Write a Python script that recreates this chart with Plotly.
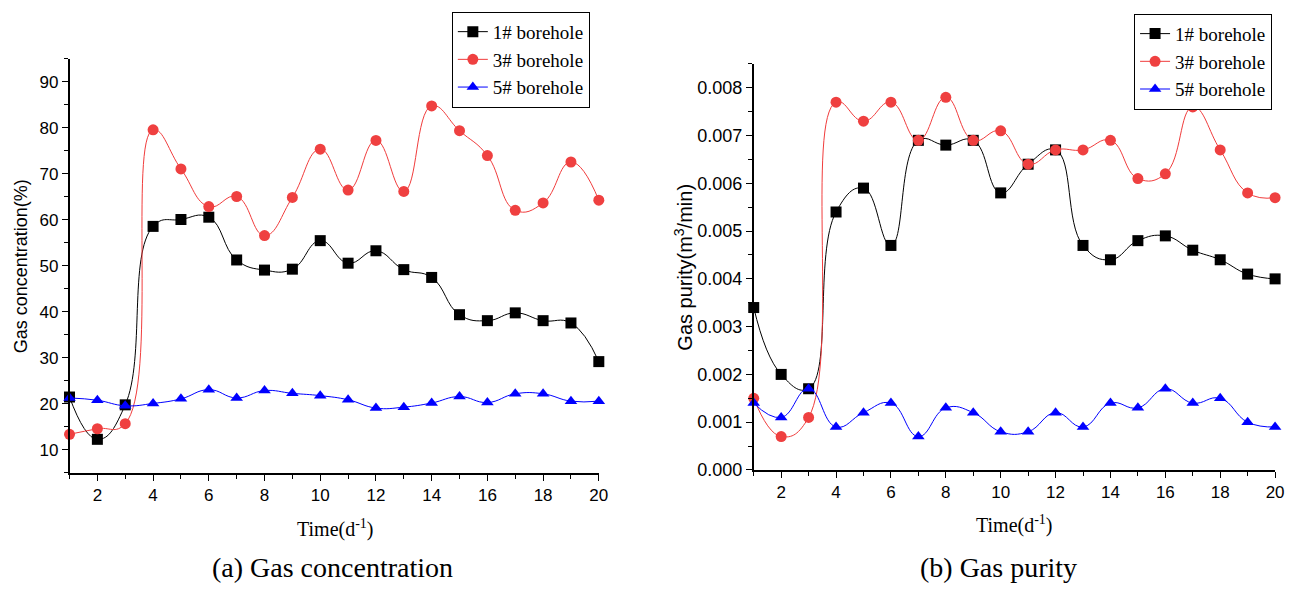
import plotly.graph_objects as go

days = list(range(1, 21))

conc_1 = [21.5, 12.3, 19.8, 58.6, 60.1, 60.6, 51.3, 49.1, 49.3, 55.5,
          50.6, 53.3, 49.2, 47.5, 39.4, 38.1, 39.8, 38.1, 37.6, 29.2]
conc_3 = [13.4, 14.6, 15.7, 79.6, 71.1, 62.9, 65.1, 56.6, 64.9, 75.4,
          66.5, 77.3, 66.2, 84.8, 79.4, 74.0, 62.1, 63.7, 72.6, 64.3]
conc_5 = [21.3, 20.8, 19.6, 20.1, 21.1, 23.1, 21.3, 22.9, 22.3, 21.8,
          20.9, 19.1, 19.3, 20.2, 21.6, 20.3, 22.2, 22.2, 20.6, 20.6]

pur_1 = [0.0034, 0.0020, 0.0017, 0.0054, 0.0059, 0.0047, 0.0069, 0.0068, 0.0069, 0.0058,
         0.0064, 0.0067, 0.0047, 0.0044, 0.0048, 0.0049, 0.0046, 0.0044, 0.0041, 0.0040]
pur_3 = [0.0015, 0.0007, 0.0011, 0.0077, 0.0073, 0.0077, 0.0069, 0.0078, 0.0069, 0.0071,
         0.0064, 0.0067, 0.0067, 0.0069, 0.0061, 0.0062, 0.0076, 0.0067, 0.0058, 0.0057]
pur_5 = [0.0014, 0.0011, 0.0017, 0.0009, 0.0012, 0.0014, 0.0007, 0.0013, 0.0012, 0.0008,
         0.0008, 0.0012, 0.0009, 0.0014, 0.0013, 0.0017, 0.0014, 0.0015, 0.0010, 0.0009]

names = ["1# borehole", "3# borehole", "5# borehole"]
line_colors = ["#000000", "#F03C3C", "#0000FF"]
marker_colors = ["#000000", "#EF4040", "#0000FF"]
symbols = ["square", "circle", "triangle-up"]

SERIF = "Liberation Serif"
SANS = "Liberation Sans"

fig = go.Figure()

for i, ys in enumerate([conc_1, conc_3, conc_5]):
    fig.add_trace(go.Scatter(
        x=days, y=ys, name=names[i], mode="lines+markers",
        line=dict(color=line_colors[i], width=1, shape="spline", smoothing=1.3),
        marker=dict(symbol=symbols[i], size=11, color=marker_colors[i]),
        cliponaxis=False, xaxis="x", yaxis="y", legend="legend"))

for i, ys in enumerate([pur_1, pur_3, pur_5]):
    fig.add_trace(go.Scatter(
        x=days, y=ys, name=names[i], mode="lines+markers",
        line=dict(color=line_colors[i], width=1, shape="spline", smoothing=1.3),
        marker=dict(symbol=symbols[i], size=11, color=marker_colors[i]),
        cliponaxis=False, xaxis="x2", yaxis="y2", legend="legend2"))

axis_common = dict(showline=True, linecolor="#000", linewidth=1.5, ticks="outside",
                   ticklen=6, tickwidth=1.2, tickcolor="#000", showgrid=False,
                   zeroline=False)
minor_common = dict(ticks="outside", ticklen=4, tickcolor="#000", tickwidth=1)

legend_font = dict(family=SERIF, size=19, color="#000")

fig.update_layout(
    width=1296, height=594,
    margin=dict(l=0, r=0, t=0, b=0),
    paper_bgcolor="white", plot_bgcolor="white",
    font=dict(family=SERIF, color="#000"),
    xaxis=dict(domain=[70/1296, 603/1296], range=[1, 20], tickvals=list(range(2, 21, 2)),
               minor=dict(tickvals=list(range(1, 21, 2)), **minor_common),
               tickfont=dict(family=SANS, size=17, color="#000"),
               anchor="y", **axis_common),
    yaxis=dict(domain=[1-481/594, 1-60/594], range=[5, 95], tickvals=list(range(10, 91, 10)),
               minor=dict(tickvals=list(range(5, 96, 10)), **minor_common),
               tickfont=dict(family=SANS, size=17, color="#000"),
               anchor="x", **axis_common),
    xaxis2=dict(domain=[759/1296, 1284/1296], range=[1, 20], tickvals=list(range(2, 21, 2)),
                minor=dict(tickvals=list(range(1, 21, 2)), **minor_common),
                tickfont=dict(family=SANS, size=17, color="#000"),
                anchor="y2", **axis_common),
    yaxis2=dict(domain=[1-478/594, 1-65/594], range=[0, 0.0085],
                tickvals=[i/1000 for i in range(0, 9)],
                ticktext=["%.3f" % (i/1000) for i in range(0, 9)],
                minor=dict(tickvals=[0.0005 + i/1000 for i in range(0, 9)], **minor_common),
                tickfont=dict(family=SANS, size=18, color="#000"),
                anchor="x2", **axis_common),
    legend=dict(x=455/1296, y=1-12/594, xanchor="left", yanchor="top",
                bordercolor="#000", borderwidth=1, bgcolor="white",
                font=legend_font, tracegroupgap=0, itemwidth=30),
    legend2=dict(x=1142/1296, y=1-14/594, xanchor="left", yanchor="top",
                 bordercolor="#000", borderwidth=1, bgcolor="white",
                 font=legend_font, tracegroupgap=0, itemwidth=30),
    showlegend=True,
)

ann_serif = dict(family=SERIF, color="#000")
ann_sans = dict(family=SANS, color="#000")

def ann(text, x, y, size, font, angle=0):
    fig.add_annotation(text=text, x=x/1296, y=1-y/594, xref="paper", yref="paper",
                       xanchor="center", yanchor="middle", textangle=angle,
                       showarrow=False, font=dict(size=size, **font))

ann("Gas concentration(%)", 22, 271, 18, ann_sans, -90)
ann("Gas purity(m<sup>3</sup>/min)", 688, 272, 20, ann_sans, -90)
ann("Time(d<sup>-1</sup>)", 338, 538, 20, ann_serif)
ann("Time(d<sup>-1</sup>)", 1022, 533, 20, ann_serif)
ann("(a) Gas concentration", 335, 577, 28, ann_serif)
ann("(b) Gas purity", 1005, 577, 28, ann_serif)

fig.write_html("out.html")
